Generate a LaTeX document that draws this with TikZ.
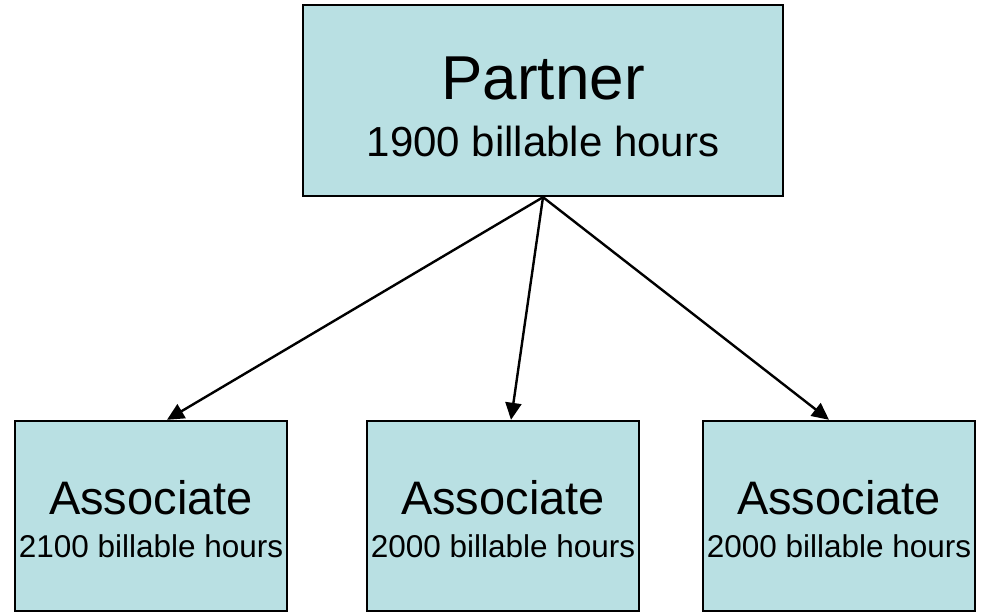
\documentclass[tikz,border=0pt]{standalone}
\usepackage{fontspec}
\setmainfont{Liberation Sans}
\usepackage{tikz}
\usetikzlibrary{positioning,arrows.meta,calc}

\definecolor{boxfill}{RGB}{185,224,227}

\begin{document}
\begin{tikzpicture}[x=1pt,y=-1pt,
  link/.style={line width=2.4pt,-{Triangle[length=17pt,width=16pt]}},
  box/.style={draw,line width=2.4pt,fill=boxfill,inner sep=0pt,align=center},
  top/.style={box,minimum width=480pt,minimum height=191pt,
    font=\fontsize{42}{57}\selectfont},
  low/.style={box,minimum width=272pt,minimum height=190pt,
    font=\fontsize{31.5}{43}\selectfont}]

  \useasboundingbox (0,0) rectangle (984,613);

  \node[top] (p0) at (543,100.5) {\rule{0pt}{56pt}{\fontsize{62}{62}\selectfont Partner}\\1900 billable hours};
  \node[low] (a1) at (151,516) {\rule{0pt}{41pt}{\fontsize{47}{47}\selectfont Associate}\\2100 billable hours};
  \node[low] (a2) at (503,516) {\rule{0pt}{41pt}{\fontsize{47}{47}\selectfont Associate}\\2000 billable hours};
  \node[low] (a3) at (839,516) {\rule{0pt}{41pt}{\fontsize{47}{47}\selectfont Associate}\\2000 billable hours};

  \path[link] (p0.south) edge[link] ([xshift=16pt]a1.north);
  \path[link] (p0.south) edge[link] ([xshift=8pt]a2.north);
  \path[link] (p0.south) edge[link] ([xshift=-10pt]a3.north);

\end{tikzpicture}
\end{document}
